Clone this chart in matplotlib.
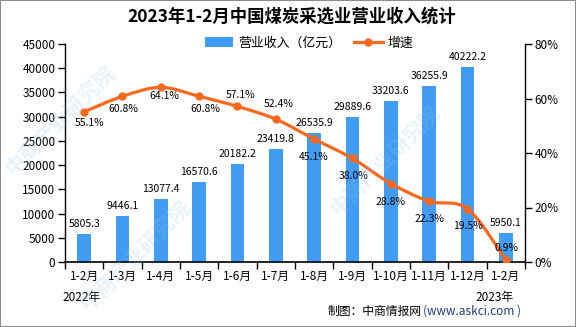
import matplotlib
matplotlib.use("Agg")
import matplotlib.pyplot as plt
from matplotlib.path import Path
from matplotlib.patches import PathPatch, Patch, Rectangle
from matplotlib.lines import Line2D
import numpy as np

plt.rcParams['font.family'] = ['Noto Sans CJK SC', 'DejaVu Sans']

title = "2023年1-2月中国煤炭采选业营业收入统计"
categories = ["1-2月", "1-3月", "1-4月", "1-5月", "1-6月", "1-7月", "1-8月",
              "1-9月", "1-10月", "1-11月", "1-12月", "1-2月"]
revenue = [5805.3, 9446.1, 13077.4, 16570.6, 20182.2, 23419.8, 26535.9,
           29889.6, 33203.6, 36255.9, 40222.2, 5950.1]
growth = [55.1, 60.8, 64.1, 60.8, 57.1, 52.4, 45.1, 38.0, 28.8, 22.3, 19.5, 0.9]
left_ticks = list(range(0, 45001, 5000))
right_ticks = [0, 20, 40, 60, 80]
legend_labels = ["营业收入（亿元）", "增速"]

# label placement (pixels) for growth labels
pct_dx = [5, 1, 3, 6, 3, 3, 0, 1, 0, 0, 0, 1]
pct_dy = [-11, -13, -9, -13, 11, 15, -18, -18, -18, -18, -17, 12]

bar_color = '#419DF3'
line_color = '#F8691F'

fig = plt.figure(figsize=(5.76, 3.27), dpi=100)
ax = fig.add_axes([65/576, 1-262/327, (525-65)/576, (262-44)/327])
ax2 = ax.twinx()

x = np.arange(len(categories))
ax.bar(x, revenue, width=0.36, color=bar_color, zorder=2)
ax.set_xlim(-0.5, len(categories) - 0.5)
ax.set_ylim(0, 45000)
ax.set_yticks(left_ticks)
ax.set_yticklabels([str(v) for v in left_ticks])
ax.set_xticks(np.arange(-0.5, len(categories), 1.0))
ax.set_xticklabels([])
ax.set_xticks(x, minor=True)
ax.set_xticklabels(categories, minor=True)
ax.tick_params(axis='x', which='minor', length=0, pad=6, labelsize=8.5)
ax.tick_params(axis='x', which='major', length=5, width=1, direction='out')
ax.tick_params(axis='y', length=5, width=1, direction='out', labelsize=8.5, pad=2)
for s in ['top', 'right']:
    ax.spines[s].set_visible(False)
ax.spines['left'].set_linewidth(1)
ax.spines['bottom'].set_linewidth(1.2)

for xi, v in zip(x, revenue):
    ax.annotate(f"{v:.1f}", (xi, v), xytext=(0, 5), textcoords='offset pixels',
                ha='center', va='bottom', fontsize=7.5, zorder=5)

ax2.set_ylim(0, 80)
ax2.set_yticks(right_ticks)
ax2.set_yticklabels([f"{v}%" for v in right_ticks])
ax2.tick_params(axis='y', length=5, width=1, direction='out', labelsize=8.5, pad=2)
for s in ['top', 'left', 'bottom']:
    ax2.spines[s].set_visible(False)
ax2.spines['right'].set_linewidth(1)

# smooth curve (Catmull-Rom as cubic Bezier) through the growth points
pts = np.column_stack([x, growth]).astype(float)
ext = np.vstack([pts[0], pts, pts[-1]])
verts = [tuple(pts[0])]
codes = [Path.MOVETO]
for i in range(len(pts) - 1):
    p0, p1, p2, p3 = ext[i], ext[i+1], ext[i+2], ext[i+3]
    c1 = p1 + (p2 - p0) / 6.0
    c2 = p2 - (p3 - p1) / 6.0
    verts += [tuple(c1), tuple(c2), tuple(p2)]
    codes += [Path.CURVE4] * 3
ax2.add_patch(PathPatch(Path(verts, codes), facecolor='none', edgecolor=line_color,
                        lw=2.3, zorder=3, capstyle='round'))
ax2.plot(x, growth, linestyle='none', marker='o', markersize=5, color=line_color, zorder=4)
for xi, g, dx, dy in zip(x, growth, pct_dx, pct_dy):
    ax2.annotate(f"{g:.1f}%", (xi, g), xytext=(dx, dy), textcoords='offset pixels',
                 ha='center', va='center', fontsize=7.5, zorder=5)

fig.text(292/576, 1-17/327, title, ha='center', va='center', fontsize=12.5,
         fontweight='bold')

handles = [Patch(facecolor=bar_color, edgecolor='none'),
           Line2D([0], [0], color=line_color, lw=2.3, marker='o', markersize=5)]
fig.legend(handles, legend_labels, loc='center', bbox_to_anchor=(309/576, 1-43/327),
           ncol=2, frameon=False, fontsize=9.3, handlelength=2.2, handleheight=0.7,
           columnspacing=1.0, handletextpad=0.4)

fig.text(82/576, 1-298/327, "2022年", ha='center', va='center', fontsize=8.5)
fig.text(495/576, 1-298/327, "2023年", ha='center', va='center', fontsize=8.5)
fig.text(422/576, 1-311/327, "制图：中商情报网", ha='right', va='center', fontsize=8.5)
fig.text(423/576, 1-311/327, "(www.askci.com )", ha='left', va='center', fontsize=8.5,
         color='#203C7A')

# watermarks
wm = "中商产业研究院"
for (wx, wy) in [(135, 255), (385, 160), (60, 120)]:
    fig.text(wx/576, 1-wy/327, wm, ha='center', va='center', fontsize=15,
             rotation=45, color='#9CC3E6', alpha=0.22, zorder=10, fontweight='bold')

fig.add_artist(Rectangle((0, 0), 1, 1, transform=fig.transFigure, fill=False,
                         edgecolor='#8C8C8C', lw=1.5))

fig.savefig("out.png", dpi=100)
